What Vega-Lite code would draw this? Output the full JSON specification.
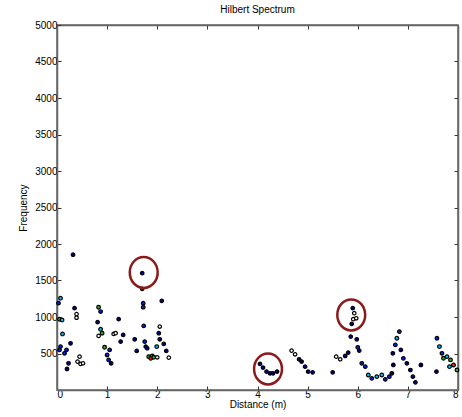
{
  "$schema": "https://vega.github.io/schema/vega-lite/v6.json",
  "width": 401,
  "height": 365,
  "autosize": "none",
  "padding": {"left": 57, "top": 25, "right": 4, "bottom": 27},
  "background": "white",
  "title": {"text": "Hilbert Spectrum", "fontSize": 10, "fontWeight": "normal", "font": "Liberation Sans", "color": "black", "offset": 5},
  "config": {
    "view": {"stroke": "#666666", "strokeWidth": 1.5},
    "axis": {"labelFont": "Liberation Sans", "titleFont": "Liberation Sans", "labelFontSize": 10, "titleFontSize": 10, "titleFontWeight": "normal", "labelColor": "black", "titleColor": "black", "domainColor": "#666666", "domainWidth": 1.5, "tickColor": "#333333", "tickSize": -4, "grid": false}
  },
  "datasets": {
    "spec": [
      {"x":0.32,"y":1853,"level":1},{"x":0.07,"y":1258,"level":3},{"x":0.03,"y":1190,"level":2},{"x":0.05,"y":970,"level":4},{"x":0.10,"y":960,"level":3},{"x":0.11,"y":768,"level":3},{"x":0.07,"y":595,"level":2},{"x":0.05,"y":549,"level":2},{"x":0.15,"y":503,"level":2},{"x":0.19,"y":549,"level":2},{"x":0.27,"y":640,"level":1},{"x":0.23,"y":366,"level":1},{"x":0.20,"y":288,"level":1},{"x":0.35,"y":1121,"level":1},{"x":0.39,"y":1040,"level":0},{"x":0.39,"y":990,"level":0},{"x":0.45,"y":457,"level":0},{"x":0.41,"y":389,"level":0},{"x":0.47,"y":357,"level":0},{"x":0.52,"y":366,"level":0},
      {"x":0.83,"y":1134,"level":4},{"x":0.87,"y":1075,"level":2},{"x":0.81,"y":929,"level":1},{"x":0.87,"y":832,"level":3},{"x":0.90,"y":778,"level":4},{"x":0.83,"y":741,"level":0},{"x":0.95,"y":585,"level":4},{"x":1.05,"y":549,"level":2},{"x":1.00,"y":480,"level":2},{"x":1.03,"y":412,"level":2},{"x":1.08,"y":366,"level":1},{"x":1.13,"y":768,"level":0},{"x":1.17,"y":778,"level":0},{"x":1.23,"y":970,"level":1},{"x":1.32,"y":755,"level":1},{"x":1.27,"y":663,"level":1},{"x":1.55,"y":695,"level":1},{"x":1.59,"y":535,"level":1},
      {"x":1.70,"y":1601,"level":1},{"x":1.70,"y":1386,"level":2},{"x":1.72,"y":1189,"level":2},{"x":1.72,"y":1134,"level":2},{"x":1.73,"y":878,"level":2},{"x":1.75,"y":663,"level":2},{"x":1.77,"y":595,"level":1},{"x":1.80,"y":572,"level":1},{"x":1.83,"y":457,"level":4},{"x":1.87,"y":434,"level":5},{"x":1.90,"y":466,"level":4},{"x":1.93,"y":448,"level":4},{"x":1.99,"y":595,"level":3},{"x":2.05,"y":869,"level":0},{"x":2.03,"y":778,"level":1},{"x":2.09,"y":1221,"level":1},{"x":2.05,"y":695,"level":1},{"x":2.13,"y":631,"level":1},{"x":2.18,"y":535,"level":1},{"x":2.23,"y":444,"level":0},{"x":2.00,"y":448,"level":0},
      {"x":4.05,"y":357,"level":1},{"x":4.11,"y":307,"level":1},{"x":4.18,"y":252,"level":1},{"x":4.25,"y":229,"level":1},{"x":4.31,"y":229,"level":1},{"x":4.39,"y":252,"level":1},{"x":4.68,"y":540,"level":0},{"x":4.75,"y":489,"level":0},{"x":4.83,"y":421,"level":1},{"x":4.88,"y":389,"level":1},{"x":4.95,"y":320,"level":1},{"x":5.01,"y":252,"level":1},{"x":5.10,"y":242,"level":1},{"x":5.50,"y":242,"level":1},{"x":5.57,"y":457,"level":0},{"x":5.65,"y":421,"level":0},{"x":5.75,"y":466,"level":1},{"x":5.81,"y":512,"level":1},
      {"x":5.90,"y":1121,"level":1},{"x":5.93,"y":1052,"level":0},{"x":5.91,"y":970,"level":0},{"x":5.97,"y":983,"level":0},{"x":5.88,"y":906,"level":1},{"x":5.86,"y":732,"level":1},{"x":5.98,"y":695,"level":1},{"x":6.00,"y":585,"level":2},{"x":6.03,"y":540,"level":1},{"x":6.08,"y":366,"level":2},{"x":6.15,"y":320,"level":2},{"x":6.21,"y":206,"level":3},{"x":6.28,"y":160,"level":2},{"x":6.38,"y":183,"level":3},{"x":6.48,"y":206,"level":3},{"x":6.55,"y":146,"level":2},{"x":6.63,"y":183,"level":2},{"x":6.68,"y":229,"level":1},{"x":6.71,"y":343,"level":1},{"x":6.70,"y":503,"level":1},{"x":6.75,"y":618,"level":2},{"x":6.78,"y":709,"level":3},{"x":6.83,"y":800,"level":2},{"x":6.86,"y":549,"level":1},{"x":6.91,"y":434,"level":2},{"x":6.98,"y":366,"level":1},{"x":7.05,"y":274,"level":1},{"x":7.10,"y":183,"level":1},{"x":7.15,"y":105,"level":1},{"x":7.26,"y":343,"level":1},
      {"x":7.57,"y":252,"level":1},{"x":7.58,"y":709,"level":2},{"x":7.63,"y":595,"level":3},{"x":7.68,"y":503,"level":2},{"x":7.71,"y":434,"level":4},{"x":7.78,"y":457,"level":3},{"x":7.85,"y":412,"level":4},{"x":7.91,"y":343,"level":5},{"x":7.98,"y":274,"level":4},{"x":7.83,"y":320,"level":3}
    ],
    "marks": [
      {"x":1.73,"y":1610},{"x":4.21,"y":288},{"x":5.87,"y":1029}
    ]
  },
  "layer": [
    {
      "data": {"name": "spec"},
      "mark": {"type": "point", "shape": "circle", "filled": true, "stroke": "black", "strokeWidth": 1.2, "opacity": 1},
      "encoding": {
        "x": {"field": "x", "type": "quantitative", "scale": {"domain": [0, 8], "nice": false}, "axis": {"title": "Distance (m)", "values": [0,1,2,3,4,5,6,7,8], "format": "d", "labelPadding": 3, "titlePadding": 0}},
        "y": {"field": "y", "type": "quantitative", "scale": {"domain": [0, 5000], "nice": false}, "axis": {"title": "Frequency", "values": [500,1000,1500,2000,2500,3000,3500,4000,4500,5000], "format": "d", "labelPadding": 4, "titlePadding": 6}},
        "fill": {"field": "level", "type": "ordinal", "scale": {"domain": [0,1,2,3,4,5], "range": ["#ffffff","#00008f","#0020ff","#00c8ff","#30b030","#ff3000"]}, "legend": null},
        "size": {"field": "level", "type": "ordinal", "scale": {"domain": [0,1,2,3,4,5], "range": [12,14,40,48,52,52]}, "legend": null}
      }
    },
    {
      "data": {"name": "marks"},
      "mark": {"type": "point", "shape": "M-0.9,0A0.9,1,0,1,1,0.9,0A0.9,1,0,1,1,-0.9,0Z", "filled": false, "stroke": "#8b1a1a", "strokeWidth": 2.5, "size": 961, "opacity": 1},
      "encoding": {
        "x": {"field": "x", "type": "quantitative", "scale": {"domain": [0, 8], "nice": false}, "axis": {"orient": "top", "labels": false, "title": null, "values": [1,2,3,4,5,6,7]}},
        "y": {"field": "y", "type": "quantitative", "scale": {"domain": [0, 5000], "nice": false}, "axis": {"orient": "right", "labels": false, "title": null, "values": [500,1000,1500,2000,2500,3000,3500,4000,4500]}}
      }
    }
  ],
  "resolve": {"scale": {"x": "independent", "y": "independent"}}
}
